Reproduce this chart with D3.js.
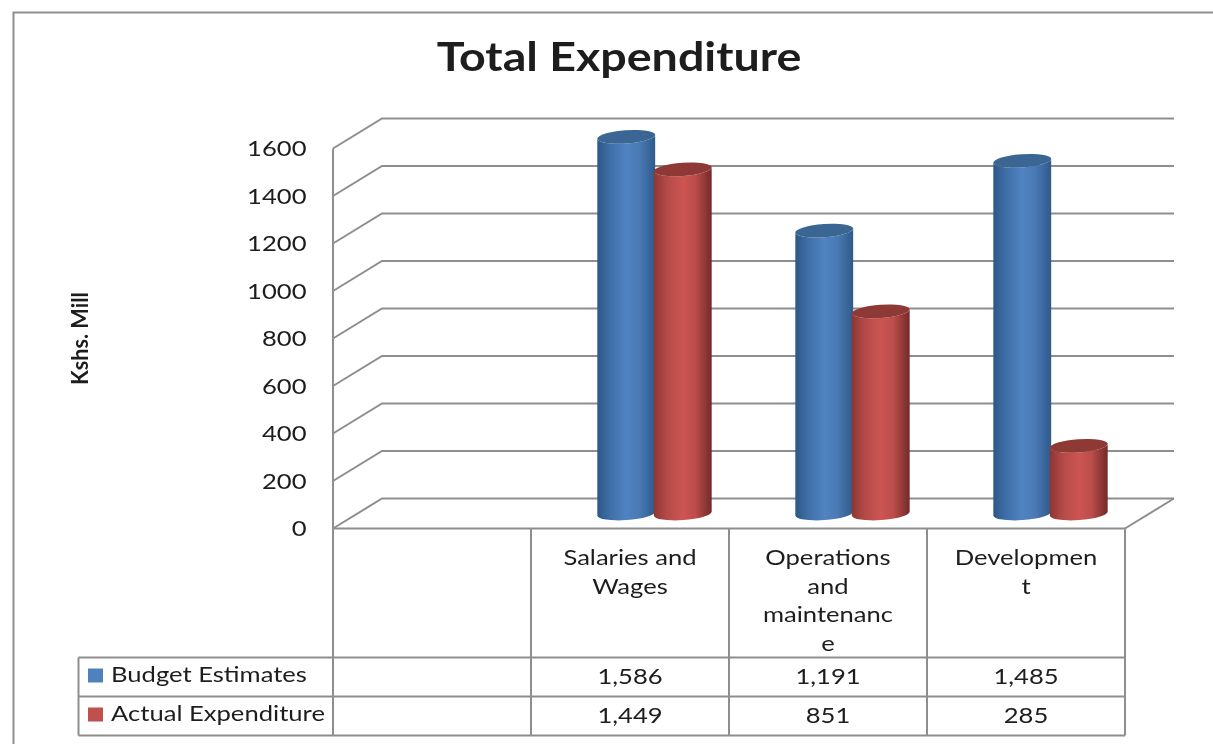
<!DOCTYPE html>
<html>
<head>
<meta charset="utf-8">
<script src="https://cdnjs.cloudflare.com/ajax/libs/d3/7.8.5/d3.min.js"></script>
<style>
html,body{margin:0;padding:0;background:#fff;overflow:hidden}
svg{display:block;filter:blur(0.5px)}
text{font-family:Lato,sans-serif;fill:#1d1d1d}
</style>
</head>
<body>
<svg id="chart" width="1213" height="744"></svg>
<script>
const title = "Total Expenditure";
const yTitle = "Kshs. Mill";
const categories = ["Salaries and Wages", "Operations and maintenance", "Development"];
const categoryLines = [["Salaries and", "Wages"], ["Operations", "and", "maintenanc", "e"], ["Developmen", "t"]];
const seriesNames = ["Budget Estimates", "Actual Expenditure"];
const budgetEstimates = [1586, 1191, 1485];
const actualExpenditure = [1449, 851, 285];
const yTicks = [0, 200, 400, 600, 800, 1000, 1200, 1400, 1600];

const seriesValues = [budgetEstimates, actualExpenditure];
const svg = d3.select("#chart");
const gridColor = "#8e8e8e";

const x = d3.scaleBand().domain(["", ...categories]).range([333, 1125]);
const y = d3.scaleLinear().domain([0, 1600]).range([528.5, 148.5]);
const depthX = 49, depthY = 30;
const seriesX = d3.scaleBand().domain(seriesNames).range([-56.5, 56.5]);
const rx = 29, ry = 6.6, tilt = -4;
const sx = 1.22;

// Gradients
const defs = svg.append("defs");
const palettes = [
  {side:["#2c5787","#3f6fa8","#5083c2","#4a7ab5","#2f5a8a"], top:"#3b6694", swatch:"#4f81bd"},
  {side:["#8e3533","#b34a47","#cd5553","#bb4d4a","#732a28"], top:"#8f3937", swatch:"#c0504d"}
];
palettes.forEach((p, i) => {
  const g = defs.append("linearGradient").attr("id", "cyl" + i).attr("x1", 0).attr("x2", 1).attr("y1", 0).attr("y2", 0);
  p.side.forEach((c, k) => g.append("stop").attr("offset", [0, .22, .5, .72, 1][k]).attr("stop-color", c));
});

// Frame
svg.append("path").attr("d", "M13.5 744V12.5H1213").attr("fill", "none").attr("stroke", gridColor).attr("stroke-width", 2);

// Walls and gridlines
const grid = svg.append("g").attr("fill", "none").attr("stroke", gridColor).attr("stroke-width", 2);
const xL = x.range()[0], xR = x.range()[1];
yTicks.forEach(t => {
  grid.append("path").attr("d", `M${xL} ${y(t)}L${xL + depthX} ${y(t) - depthY}H${xR + depthX}`);
});
grid.append("path").attr("d", `M${xR} ${y(0)}L${xR + depthX} ${y(0) - depthY}`);

// Y axis
const yAxis = d3.axisLeft(y).tickValues(yTicks).tickSize(0).tickPadding(0).tickFormat(d3.format("d"));
const yG = svg.append("g").attr("transform", `translate(${xL},0)`).call(yAxis);
yG.select(".domain").remove();
yG.selectAll("text")
  .style("font-family", "Lato,sans-serif").style("font-size", "21px").style("fill", "#1d1d1d")
  .attr("x", -26.5 / sx).attr("dy", "0.34em").attr("transform", `scale(${sx},1)`);
svg.append("path").attr("d", `M${xL} ${y(1600)}V657`).attr("fill", "none").attr("stroke", gridColor).attr("stroke-width", 2);

// Cylinders
const rad = tilt * Math.PI / 180;
const ex = rx * Math.cos(rad), ey = rx * Math.sin(rad);
function cylinderSide(cx, yTop, yBase) {
  return `M${cx - ex} ${yTop - ey}L${cx - ex} ${yBase - ey}` +
         `A${rx} ${ry} ${tilt} 0 0 ${cx + ex} ${yBase + ey}` +
         `L${cx + ex} ${yTop + ey}` +
         `A${rx} ${ry} ${tilt} 0 1 ${cx - ex} ${yTop - ey}Z`;
}
const marks = svg.append("g");
categories.forEach((cat, c) => {
  seriesNames.forEach((s, i) => {
    const cx = x(cat) + x.bandwidth() / 2 + depthX / 2 + seriesX(s) + seriesX.bandwidth() / 2;
    const yTop = y(seriesValues[i][c]) - depthY / 2;
    const yBase = y(0) - depthY / 2;
    marks.append("path").attr("d", cylinderSide(cx, yTop, yBase)).attr("fill", `url(#cyl${i})`);
    marks.append("ellipse").attr("rx", rx).attr("ry", ry)
      .attr("transform", `translate(${cx},${yTop}) rotate(${tilt})`).attr("fill", palettes[i].top);
  });
});

// Data table
const rowY = [657.5, 696.5, 735.5];
const tableLeft = 78.5;
const table = svg.append("g").attr("fill", "none").attr("stroke", gridColor).attr("stroke-width", 2);
table.append("path").attr("d", `M${xL} ${y(0)}H${xR}V${rowY[2]}`);
rowY.forEach(r => table.append("path").attr("d", `M${tableLeft} ${r}H${xR}`));
table.append("path").attr("d", `M${tableLeft} ${rowY[0]}V${rowY[2]}`);
table.append("path").attr("d", `M${xL} ${rowY[0]}V${rowY[2]}`);
categories.forEach(cat => table.append("path").attr("d", `M${x(cat)} ${y(0)}V${rowY[2]}`));

function stretched(str, px, py, size, anchor, scale, weight) {
  return svg.append("text").text(str)
    .attr("transform", `translate(${px},${py}) scale(${scale},1)`)
    .attr("text-anchor", anchor).attr("font-size", size).attr("font-weight", weight || 400);
}

const lineStart = 565, lineStep = 28.6;
categories.forEach((cat, c) => {
  const cx = x(cat) + x.bandwidth() / 2;
  categoryLines[c].forEach((ln, k) => stretched(ln, cx, lineStart + k * lineStep, 21, "middle", sx));
  seriesNames.forEach((s, i) => {
    stretched(d3.format(",")(seriesValues[i][c]), cx, rowY[i] + 26, 21, "middle", sx);
  });
});
seriesNames.forEach((s, i) => {
  svg.append("rect").attr("x", 88).attr("y", rowY[i] + 11).attr("width", 15).attr("height", 14).attr("fill", palettes[i].swatch);
  stretched(s, 111, rowY[i] + 24, 21, "start", sx);
});

// Titles
stretched(title, 619, 71, 40, "middle", 1.165, 700);
svg.append("text").text(yTitle)
  .attr("transform", "translate(88,385) rotate(-90) scale(1.03,1.05)")
  .attr("font-size", 21).attr("font-weight", 700);
</script>
</body>
</html>
